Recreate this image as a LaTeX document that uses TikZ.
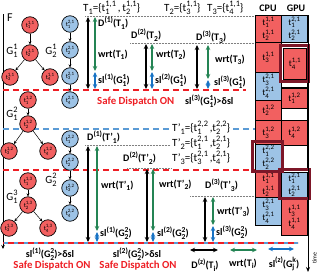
\documentclass[tikz,border=0pt]{standalone}
\usepackage{fontspec}
\setmainfont{Carlito}
\usetikzlibrary{arrows.meta}
\definecolor{nred}{RGB}{242,96,96}
\definecolor{nblue}{RGB}{157,195,230}
\definecolor{hred}{RGB}{125,22,40}
\definecolor{dred}{RGB}{238,30,36}
\definecolor{dblue}{RGB}{91,155,213}
\definecolor{agreen}{RGB}{36,132,84}
\definecolor{ablue}{RGB}{22,114,196}
\makeatletter
\newcommand{\ssz}{\fontsize{\fpeval{0.76*\f@size}}{\fpeval{0.76*\f@size}}\selectfont}
\makeatother
\newcommand{\sbp}[2]{{\ssz\setbox0\hbox{\raisebox{-0.35em}{#1}}\setbox2\hbox{\raisebox{0.62em}{#2}}\ifdim\wd0>\wd2 \rlap{\box2}\box0\else\rlap{\box0}\box2\fi}}
\newcommand{\spx}[1]{{\ssz\raisebox{0.6em}{#1}}}
\newcommand{\sbx}[1]{{\ssz\raisebox{-0.33em}{#1}}}
\tikzset{
 tn/.style={circle,draw=black,line width=0.7pt,minimum size=16.5pt,inner sep=0pt,font=\fontsize{6.5}{6.5}\selectfont},
 rn/.style={tn,fill=nred},
 bn/.style={tn,fill=nblue},
 tedge/.style={-{Stealth[length=3pt,width=3pt]},line width=0.5pt},
 lbl/.style={font=\fontsize{10}{11}\selectfont\bfseries,inner sep=0pt,anchor=west},
 hdr/.style={font=\fontsize{11}{12}\selectfont,inner sep=0pt,anchor=west},
 arrK/.style={{Stealth[length=5pt,width=4.5pt]}-{Stealth[length=5pt,width=4.5pt]},line width=1.5pt,black},
 arrG/.style={arrK,draw=agreen,fill=agreen},
 arrB/.style={arrK,draw=ablue,fill=ablue},
 dl/.style={densely dotted,gray,line width=0.5pt},
 rdash/.style={dred,dash pattern=on 6pt off 4pt,line width=1.3pt},
 bdash/.style={dblue,dash pattern=on 6pt off 4pt,line width=1.3pt},
 sbox/.style={draw=black,line width=0.6pt,inner sep=0pt,anchor=north west,minimum width=26pt,font=\fontsize{9}{13}\selectfont,align=center},
 hfr/.style={draw=hred,line width=3pt},
 sdo/.style={font=\fontsize{10.8}{12}\selectfont\bfseries,text=dred,inner sep=0pt},
 glbl/.style={font=\fontsize{11}{11}\selectfont,inner sep=0pt},
}
\begin{document}
\begin{tikzpicture}[x=1pt,y=-1pt]
\useasboundingbox (0,0) rectangle (318,276);
% axes
\coordinate (lt) at (3,14); \coordinate (lb) at (3,249);
\draw[-{Stealth[length=4pt,width=3.5pt]},line width=0.8pt] (lt) -- (lb);
\node[font=\fontsize{12}{12}\selectfont,inner sep=0pt] (F) at (10,18) {F};
% dashed separators
\coordinate (r1a) at (3,90); \coordinate (r1b) at (246,90);
\draw[rdash] (r1a) -- (r1b);
\coordinate (bla) at (3,129); \coordinate (blb) at (255,129);
\draw[bdash] (bla) -- (blb);
\coordinate (r2a) at (3,170); \coordinate (r2b) at (255,170);
\draw[rdash] (r2a) -- (r2b);
\coordinate (r3a) at (3,243); \coordinate (r3b) at (298,243);
\draw[bdash] (r3a) -- (r3b);
\draw[rdash,dash phase=5pt] (r3a) -- (r3b);
% dotted deadline lines
\coordinate (d1a) at (85,16); \coordinate (d1b) at (255,16); \draw[dl] (d1a) -- (d1b);
\coordinate (d2a) at (130,43); \coordinate (d2b) at (255,43); \draw[dl] (d2a) -- (d2b);
\coordinate (d3a) at (85,145); \coordinate (d3b) at (172,145); \draw[dl] (d3a) -- (d3b);
\coordinate (d4a) at (127,168); \coordinate (d4b) at (172,168); \draw[dl] (d4a) -- (d4b);
\coordinate (d5a) at (190,196); \coordinate (d5b) at (255,196); \draw[dl] (d5a) -- (d5b);
% task graphs G1
\node[rn] (a1) at (30,25) {t\sbp{1}{1,1}};
\node[rn] (a2) at (30,53) {t\sbp{2}{1,1}};
\node[rn] (a3) at (10,77) {t\sbp{3}{1,1}};
\node[rn] (a4) at (50,77) {t\sbp{4}{1,1}};
\draw[tedge] (a1) -- (a2); \draw[tedge] (a2) -- (a3); \draw[tedge] (a2) -- (a4);
\node[rn] (b1) at (28,100) {t\sbp{1}{1,2}};
\node[rn] (b2) at (28,124) {t\sbp{2}{1,2}};
\node[rn] (b3) at (9,151) {t\sbp{3}{1,2}};
\node[rn] (b4) at (48,151) {t\sbp{4}{1,2}};
\draw[tedge] (b1) -- (b2); \draw[tedge] (b2) -- (b3); \draw[tedge] (b2) -- (b4);
\node[rn] (c1) at (28,181) {t\sbp{1}{1,3}};
\node[rn] (c2) at (28,205) {t\sbp{2}{1,3}};
\node[rn] (c3) at (9,228) {t\sbp{3}{1,3}};
\node[rn] (c4) at (48,228) {t\sbp{4}{1,3}};
\draw[tedge] (c1) -- (c2); \draw[tedge] (c2) -- (c3); \draw[tedge] (c2) -- (c4);
% task graphs G2
\node[bn] (e1) at (70,24) {t\sbp{1}{2,1}};
\node[bn] (e2) at (70,50) {t\sbp{2}{2,1}};
\node[bn] (e3) at (70,76) {t\sbp{3}{2,1}};
\node[bn] (e4) at (70,100) {t\sbp{4}{2,1}};
\draw[tedge] (e1) -- (e2); \draw[tedge] (e2) -- (e3); \draw[tedge] (e3) -- (e4);
\node[bn] (f1) at (70,139) {t\sbp{1}{2,2}};
\node[bn] (f2) at (70,162) {t\sbp{2}{2,2}};
\node[bn] (f3) at (70,188) {t\sbp{3}{2,2}};
\node[bn] (f4) at (70,213) {t\sbp{4}{2,2}};
\draw[tedge] (f1) -- (f2); \draw[tedge] (f2) -- (f3); \draw[tedge] (f3) -- (f4);
\node[glbl] (g11) at (12,51) {G\sbp{1}{1}};
\node[glbl] (g21) at (51,51) {G\sbp{2}{1}};
\node[glbl] (g12) at (12,114) {G\sbp{1}{2}};
\node[glbl] (g22) at (51,180) {G\sbp{2}{2}};
\node[glbl] (g13) at (12,197) {G\sbp{1}{3}};
% header
\node[hdr] (h1) at (83,8) {T\sbx{1}=\{t\sbp{1}{1,1}\,,\,t\sbp{2}{1,1}\}};
\node[hdr] (h2) at (164,8) {T\sbx{2}=\{t\sbp{3}{1,1}\}};
\node[hdr] (h3) at (207,8) {T\sbx{3}=\{t\sbp{4}{1,1}\}};
\node[font=\fontsize{10}{11}\selectfont\bfseries,inner sep=0pt] (cpu) at (268,8) {CPU};
\node[font=\fontsize{10}{11}\selectfont\bfseries,inner sep=0pt] (gpu) at (296,8) {GPU};
% section 1 arrows
\coordinate (k1t) at (88,17); \coordinate (k1b) at (88,89); \draw[arrK] (k1t) -- (k1b);
\coordinate (g1t) at (95,17); \coordinate (g1b) at (95,71); \draw[arrG] (g1t) -- (g1b);
\coordinate (b1t) at (95,72); \coordinate (b1b) at (95,89); \draw[arrB] (b1t) -- (b1b);
\coordinate (k2t) at (146,44); \coordinate (k2b) at (146,89); \draw[arrK] (k2t) -- (k2b);
\coordinate (g2t) at (152,44); \coordinate (g2b) at (152,71); \draw[arrG] (g2t) -- (g2b);
\coordinate (b2t) at (152,72); \coordinate (b2b) at (152,89); \draw[arrB] (b2t) -- (b2b);
\coordinate (k3t) at (197,45); \coordinate (k3b) at (197,89); \draw[arrK] (k3t) -- (k3b);
\coordinate (g3t) at (208,45); \coordinate (g3b) at (208,79); \draw[arrG] (g3t) -- (g3b);
\coordinate (b3t) at (208,80); \coordinate (b3b) at (208,89); \draw[arrB] (b3t) -- (b3b);
\node[lbl] (l1) at (98,23) {D\spx{(1)}(T\sbx{1})};
\node[lbl] (l2) at (98,55) {wrt(T\sbx{1})};
\node[lbl] (l3) at (98,80) {sl\spx{(1)}(G\sbp{1}{1})};
\node[lbl] (l4) at (131,35) {D\spx{(2)}(T\sbx{2})};
\node[lbl] (l5) at (156,55) {wrt(T\sbx{2})};
\node[lbl] (l6) at (155,80) {sl\spx{(2)}(G\sbp{1}{1})};
\node[lbl] (l7) at (196,37) {D\spx{(3)}(T\sbx{3})};
\node[lbl] (l8) at (215,60) {wrt(T\sbx{3})};
\node[lbl] (l9) at (214,82) {sl\spx{(3)}(G\sbp{1}{1})};
\node[sdo,anchor=west] (s1) at (97,102) {Safe Dispatch ON};
\node[lbl] (l10) at (185,101) {sl\spx{(3)}(G\sbp{1}{1})>δsl};
% section 2
\node[hdr,fill=white,inner sep=1pt] (tp1) at (171,128) {T'\sbx{1}=\{t\sbp{1}{2,2}\,,t\sbp{2}{2,2}\}};
\node[hdr,fill=white,inner sep=1pt] (tp2) at (171,143) {T'\sbx{2}=\{t\sbp{1}{2,1}\,,t\sbp{2}{2,1}\}};
\node[hdr,fill=white,inner sep=1pt] (tp3) at (171,158) {T'\sbx{3}=\{t\sbp{3}{2,1}\,,t\sbp{4}{2,1}\}};
\node[lbl] (m1) at (87,137) {D\spx{(1)}(T'\sbx{1})};
\node[lbl] (m2) at (123,158) {D\spx{(2)}(T'\sbx{2})};
\node[lbl] (m3) at (205,185) {D\spx{(3)}(T'\sbx{3})};
\coordinate (k4t) at (88,146); \coordinate (k4b) at (88,242); \draw[arrK] (k4t) -- (k4b);
\coordinate (g4t) at (97,146); \coordinate (g4b) at (97,231); \draw[arrG] (g4t) -- (g4b);
\coordinate (b4t) at (97,232); \coordinate (b4b) at (97,242); \draw[arrB] (b4t) -- (b4b);
\coordinate (k5t) at (147,169); \coordinate (k5b) at (147,242); \draw[arrK] (k5t) -- (k5b);
\coordinate (g5t) at (153,169); \coordinate (g5b) at (153,231); \draw[arrG] (g5t) -- (g5b);
\coordinate (b5t) at (153,232); \coordinate (b5b) at (153,242); \draw[arrB] (b5t) -- (b5b);
\coordinate (k6t) at (205,197); \coordinate (k6b) at (205,242); \draw[arrK] (k6t) -- (k6b);
\coordinate (g6t) at (213,197); \coordinate (g6b) at (213,225); \draw[arrG] (g6t) -- (g6b);
\coordinate (b6t) at (213,226); \coordinate (b6b) at (213,242); \draw[arrB] (b6t) -- (b6b);
\node[lbl] (m4) at (101,186) {wrt(T'\sbx{1})};
\node[lbl] (m5) at (100,233) {sl\spx{(1)}(G\sbp{2}{2})};
\node[lbl] (m6) at (159,185) {wrt(T'\sbx{2})};
\node[lbl] (m7) at (157,233) {sl\spx{(2)}(G\sbp{2}{2})};
\node[lbl] (m8) at (217,212) {wrt(T'\sbx{3})};
\node[lbl] (m9) at (216,232) {sl\spx{(3)}(G\sbp{2}{2})};
% bottom
\node[lbl,anchor=center] (n1) at (50,254) {sl\spx{(1)}(G\sbp{2}{2})>δsl};
\node[sdo] (s2) at (52,266) {Safe Dispatch ON};
\node[lbl,anchor=center] (n2) at (137,254) {sl\spx{(2)}(G\sbp{2}{2})>δsl};
\node[sdo] (s3) at (138,266) {Safe Dispatch ON};
\coordinate (lk1) at (190,250); \coordinate (lk2) at (218,250); \draw[arrK] (lk1) -- (lk2);
\coordinate (lg1) at (230,250); \coordinate (lg2) at (257,250); \draw[arrG] (lg1) -- (lg2);
\coordinate (lb1) at (268,249); \coordinate (lb2) at (294,249); \draw[arrB] (lb1) -- (lb2);
\node[lbl,anchor=center] (o1) at (205,265) {D\spx{(z)}(T\sbx{i})};
\node[lbl,anchor=center] (o2) at (243,264) {wrt(T\sbx{i})};
\node[lbl,anchor=center] (o3) at (284,264) {sl\spx{(z)}(G\sbp{j}{k})};
% schedule CPU
\node[sbox,fill=nred,minimum height=27pt] (c1s) at (255,15) {t\sbp{1}{1,1}\\t\sbp{2}{1,1}};
\node[sbox,fill=nred,minimum height=30pt] (c2s) at (255,42) {t\sbp{3}{1,1}};
\node[sbox,fill=nblue,minimum height=28pt] (c3s) at (255,72) {t\sbp{3}{2,1}\\t\sbp{4}{2,1}};
\node[sbox,fill=nred,minimum height=20pt] (c4s) at (255,100) {t\sbp{2}{1,2}};
\node[sbox,fill=nred,minimum height=25pt] (c5s) at (255,120) {t\sbp{3}{1,2}};
\node[sbox,fill=nblue,minimum height=26pt] (c6s) at (255,144) {t\sbp{1}{2,2}\\t\sbp{2}{2,2}};
\node[sbox,fill=nred,minimum height=25pt] (c7s) at (255,172) {t\sbp{1}{1,1}\\t\sbp{2}{1,1}};
\node[sbox,fill=nblue,minimum height=28pt] (c8s) at (255,197) {t\sbp{3}{2,1}\\t\sbp{4}{2,1}};
% schedule GPU
\node[sbox,fill=nblue,minimum height=27pt] (g1s) at (281,15) {t\sbp{1}{2,1}\\t\sbp{2}{2,1}};
\node[sbox,fill=white,minimum height=5pt] (g0s) at (281,82) {};
\node[sbox,fill=nred,minimum height=20pt] (g3s) at (281,88) {t\sbp{1}{1,2}};
\node[sbox,fill=white,minimum height=12pt] (g4s) at (281,108) {};
\node[sbox,fill=nred,minimum height=25pt] (g5s) at (281,120) {t\sbp{4}{1,2}};
\node[sbox,fill=white,minimum height=25pt] (g6s) at (281,145) {};
\node[sbox,fill=nred,minimum height=36pt] (g8s) at (281,199) {t\sbp{3}{1,1}\\t\sbp{4}{1,1}};
\node[sbox,fill=nblue,minimum height=25pt] (g7s) at (281,172) {t\sbp{1}{2,1}\\t\sbp{2}{2,1}};
\node[sbox,fill=nred,minimum height=31pt,minimum width=23pt] (g2s) at (283,48) {t\sbp{4}{1,1}};
% highlight frames
\draw[hfr] (280.5,45.5) rectangle (308.5,81.5);
\draw[hfr] (252.5,141.5) rectangle (282.5,171.5);
\draw[hfr] (279.5,169.5) rectangle (309,198.5);
% time axis
\coordinate (tt) at (308,15); \coordinate (tb) at (308,272);
\draw[-{Stealth[length=5pt,width=4pt]},line width=1pt] (tt) -- (tb);
\coordinate (ct) at (255,15); \draw[line width=0.8pt] (ct) -- (tt);
\node[rotate=90,font=\fontsize{6}{6}\selectfont,inner sep=0pt] (tm) at (314.5,258) {time};
\end{tikzpicture}
\end{document}
